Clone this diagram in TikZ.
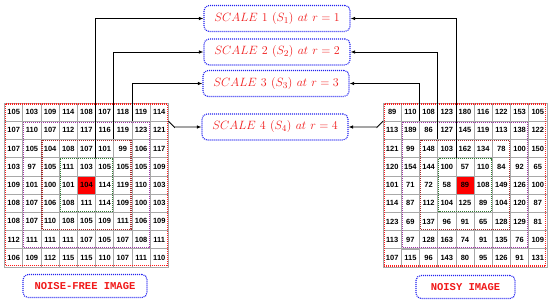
\documentclass[tikz,border=0pt]{standalone}
\usepackage{fontspec}
\newfontfamily\cellfont{Liberation Sans}
\newfontfamily\tagfont{Liberation Mono}
\usepackage{tikz}
\usetikzlibrary{
  arrows.meta, positioning, calc, matrix
}
\usepackage{xcolor}
\definecolor{ringred}{HTML}{FF1A1A}
\definecolor{ringpurple}{HTML}{A035A8}
\definecolor{ringbrown}{HTML}{A52A2A}
\definecolor{ringgreen}{HTML}{2E7D32}
\definecolor{scaleblue}{HTML}{2020F0}
\definecolor{scalered}{HTML}{F01818}
\definecolor{gridgray}{HTML}{A8A8A8}

\begin{document}
\begin{tikzpicture}[
  x=1pt, y=1pt,
  cell/.style={
    rectangle, draw=gridgray, line width=0.7pt,
    minimum size=18.2pt, inner sep=0pt, outer sep=0pt,
    font=\cellfont\bfseries\fontsize{7.5}{8}\selectfont
  },
  grid/.style={
    matrix of nodes, nodes={cell},
    column sep=-0.7pt, row sep=-0.7pt, inner sep=0pt
  },
  ring/.style={
    draw=#1, line width=1.1pt, dash pattern=on 1pt off 1pt
  },
  scalebox/.style={
    rectangle, rounded corners=5pt,
    minimum width=146pt, minimum height=26pt,
    draw=scaleblue, line width=1.1pt, dash pattern=on 1pt off 1pt,
    text=scalered, font=\fontsize{13}{15}\selectfont
  },
  imgbox/.style={
    rectangle, rounded corners=5pt,
    minimum width=#1, minimum height=23pt,
    draw=scaleblue, line width=1.1pt, dash pattern=on 1pt off 1pt,
    text=scalered, font=\tagfont\bfseries\fontsize{10.5}{12}\selectfont
  },
  link/.style={-{Latex[length=4.5pt, width=3.5pt]}, line width=0.8pt, black}
]
  \useasboundingbox (0,0) rectangle (550,302);

  \matrix (clean) [grid] at (86.5,117) {
    105 & 103 & 109 & 114 & 108 & 107 & 118 & 119 & 114 \\
    107 & 110 & 107 & 112 & 117 & 116 & 119 & 123 & 121 \\
    107 & 105 & 104 & 108 & 107 & 101 & 99  & 106 & 117 \\
    103 & 97  & 105 & 111 & 103 & 105 & 105 & 105 & 109 \\
    109 & 101 & 100 & 101 & |[fill=red]| 104 & 114 & 119 & 110 & 103 \\
    108 & 107 & 106 & 108 & 111 & 114 & 109 & 100 & 103 \\
    108 & 107 & 110 & 108 & 105 & 109 & 111 & 106 & 109 \\
    112 & 111 & 111 & 111 & 107 & 105 & 107 & 108 & 111 \\
    106 & 109 & 112 & 115 & 115 & 110 & 107 & 111 & 110 \\
  };

  \matrix (noisy) [grid] at (465,117) {
    89  & 110 & 108 & 123 & 180 & 116 & 122 & 153 & 105 \\
    113 & 189 & 86  & 127 & 145 & 119 & 113 & 138 & 122 \\
    121 & 99  & 148 & 103 & 162 & 134 & 78  & 100 & 150 \\
    120 & 154 & 144 & 100 & 57  & 110 & 84  & 92  & 65  \\
    101 & 71  & 72  & 58  & |[fill=red]| 89 & 108 & 149 & 126 & 100 \\
    114 & 87  & 112 & 104 & 125 & 89  & 104 & 120 & 87  \\
    123 & 69  & 137 & 96  & 91  & 65  & 128 & 129 & 81  \\
    113 & 97  & 128 & 163 & 74  & 91  & 135 & 76  & 109 \\
    107 & 115 & 96  & 143 & 80  & 95  & 126 & 91  & 131 \\
  };

  \draw[ring=ringred] ([shift={(1,-1)}]clean-1-1.north west) rectangle ([shift={(-1,1)}]clean-9-9.south east);
  \draw[ring=ringpurple] ([shift={(1,-1)}]clean-2-2.north west) rectangle ([shift={(-1,1)}]clean-8-8.south east);
  \draw[ring=ringbrown] ([shift={(1,-1)}]clean-3-3.north west) rectangle ([shift={(-1,1)}]clean-7-7.south east);
  \draw[ring=ringgreen] ([shift={(1,-1)}]clean-4-4.north west) rectangle ([shift={(-1,1)}]clean-6-6.south east);

  \draw[ring=ringred] ([shift={(1,-1)}]noisy-1-1.north west) rectangle ([shift={(-1,1)}]noisy-9-9.south east);
  \draw[ring=ringpurple] ([shift={(1,-1)}]noisy-2-2.north west) rectangle ([shift={(-1,1)}]noisy-8-8.south east);
  \draw[ring=ringbrown] ([shift={(1,-1)}]noisy-3-3.north west) rectangle ([shift={(-1,1)}]noisy-7-7.south east);
  \draw[ring=ringgreen] ([shift={(1,-1)}]noisy-4-4.north west) rectangle ([shift={(-1,1)}]noisy-6-6.south east);

  \node[scalebox] (s1) at (277,283.5) {$SCALE\ 1\ (S_1)\ at\ r=1$};
  \node[scalebox] (s2) at (277,250) {$SCALE\ 2\ (S_2)\ at\ r=2$};
  \node[scalebox] (s3) at (276,218.5) {$SCALE\ 3\ (S_3)\ at\ r=3$};
  \node[scalebox] (s4) at (275,175) {$SCALE\ 4\ (S_4)\ at\ r=4$};

  \draw[link] (clean-4-5.north east) |- (s1.west);
  \draw[link] (clean-3-6.north east) |- (s2.west);
  \draw[link] (clean-2-7.north east) |- (s3.west);
  \draw[link] (clean-1-9.south east) -- ++(6,-6) |- (s4.west);

  \draw[link] (noisy-4-4.north east) |- (s1.east);
  \draw[link] (noisy-3-3.north east) |- (s2.east);
  \draw[link] (noisy-2-2.north east) |- (s3.east);
  \draw[link] (noisy-1-1.south west) -- ++(-6,-6) |- (s4.east);

  \node[imgbox=124pt] (freetag) at (85,16) {NOISE-FREE IMAGE};
  \node[imgbox=99pt] (noisytag) at (465.5,15) {NOISY IMAGE};
\end{tikzpicture}
\end{document}
